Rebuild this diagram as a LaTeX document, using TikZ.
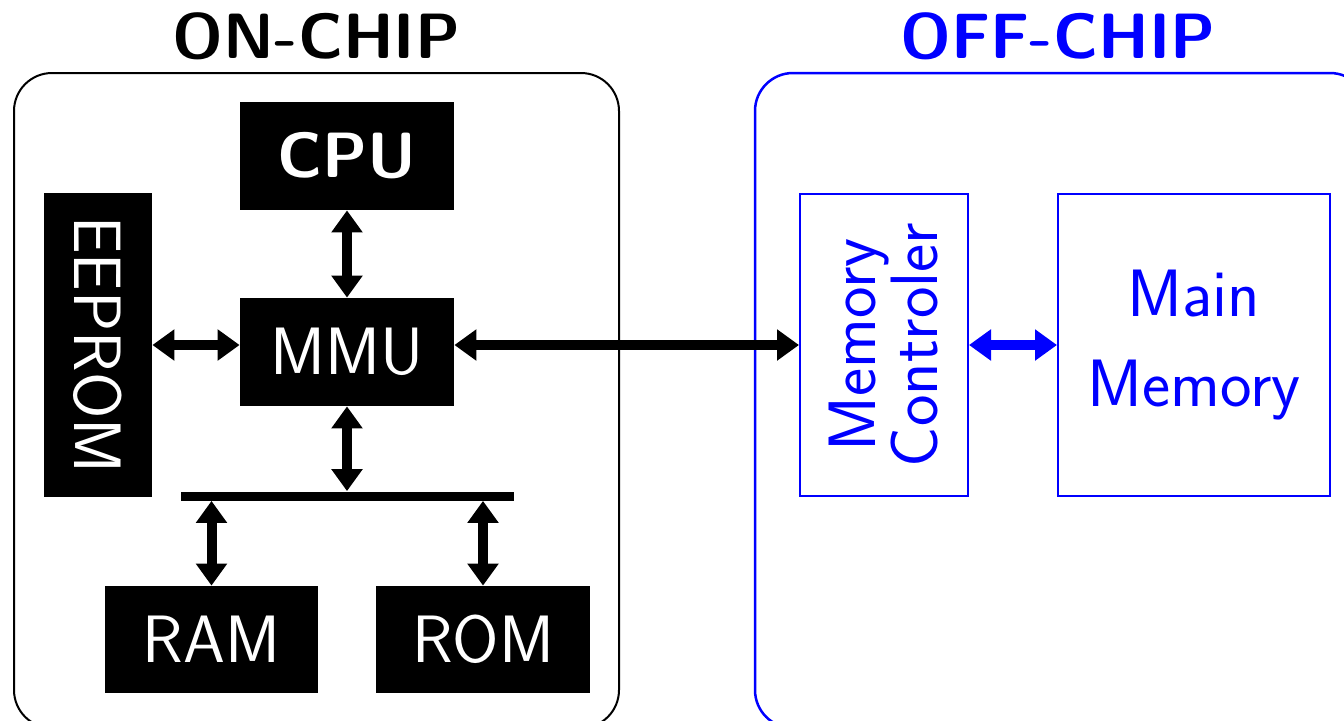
\documentclass[tikz,border=0pt]{standalone}
\usepackage{graphicx}
\usetikzlibrary{arrows.meta}
\definecolor{offblue}{RGB}{0,0,255}
\begin{document}
\begin{tikzpicture}[x=0.5pt,y=-0.5pt,
  bigfont/.style={font=\sffamily\fontsize{33.5}{40}\selectfont},
  blk/.style={bigfont, fill=black, text=white, inner sep=0pt},
  outbox/.style={bigfont, draw=offblue, line width=1pt, text=offblue, inner sep=0pt},
  container/.style={rounded corners=19pt, line width=1pt, inner sep=0pt},
  title/.style={font=\sffamily\bfseries\fontsize{32}{38}\selectfont, anchor=base, inner sep=0pt},
  dbl/.style={line width=5pt, {Triangle[length=11pt,width=15pt]}-{Triangle[length=11pt,width=15pt]}}
]
\useasboundingbox (0,0) rectangle (1344,720);
\clip (0,0) rectangle (1344,720);

% the two regions
\node[container, draw=black, minimum width=302.5pt, minimum height=327.5pt] (onchip) at (316.5,400.5) {};
\node[container, draw=offblue, line width=1.25pt, minimum width=306.5pt, minimum height=327.5pt] (offchip) at (1061.5,400.5) {};
\node[title, text=black] (ontitle) at (316.5,58) {ON-CHIP};
\node[title, text=offblue] (offtitle) at (1058,58) {OFF-CHIP};

% on-chip blocks
\node[blk, minimum width=107pt, minimum height=54pt] (cpu) at (347,156) {\fontsize{32}{38}\selectfont\bfseries CPU};
\node[blk, minimum width=107pt, minimum height=54pt] (mmu) at (347,352) {MMU};
\node[blk, minimum width=54pt, minimum height=152pt] (eeprom) at (98,345) {\rotatebox{-90}{EEPROM}};
\node[blk, minimum width=106.5pt, minimum height=53.5pt] (ram) at (211.5,639.5) {RAM};
\node[blk, minimum width=107pt, minimum height=53.5pt] (rom) at (483,639.5) {ROM};
\node[fill=black, inner sep=0pt, minimum width=166.5pt, minimum height=4.5pt] (bus) at (347.5,496) {};

% off-chip blocks
\node[outbox, minimum width=84pt, minimum height=151pt] (mc) at (884,345) {};
\node[font=\sffamily\fontsize{33.5}{31}\selectfont, text=offblue, align=center, rotate=90, inner sep=0pt] (mctext) at (mc.center) {Memory\\Controler};
\node[outbox, font=\sffamily\fontsize{33.5}{45}\selectfont, align=center, minimum width=136pt, minimum height=151pt] (mm) at (1194,345) {Main\\Memory};

% connections
\draw[dbl] (cpu.south) -- (mmu.north);
\draw[dbl] (eeprom.east) -- (eeprom.east -| mmu.west);
\draw[dbl] (mmu.south) -- (mmu.south |- bus.north);
\draw[dbl] (bus.south -| ram.north) -- (ram.north);
\draw[dbl] (bus.south -| rom.north) -- (rom.north);
\draw[dbl] (mc.west -| mmu.east) -- (mc.west);
\draw[dbl, draw=offblue, fill=offblue] (mc.east) -- (mm.west);
\end{tikzpicture}
\end{document}
